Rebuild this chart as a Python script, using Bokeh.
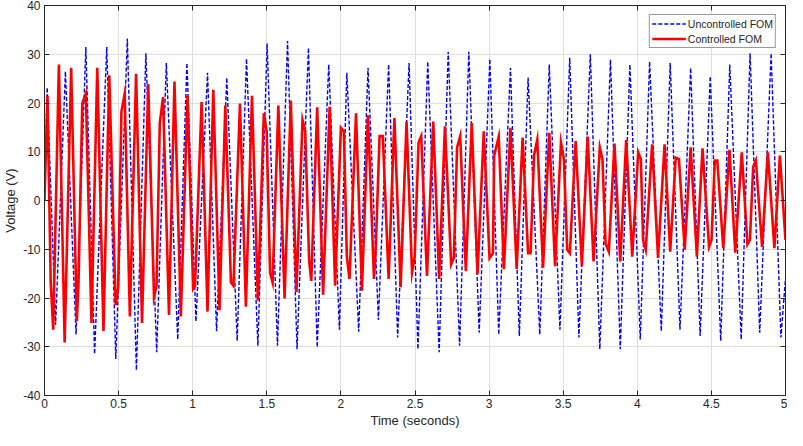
from bokeh.plotting import figure
from bokeh.models import LinearAxis, FixedTicker, Range1d, NumeralTickFormatter
from bokeh.embed import file_html
from bokeh.resources import INLINE

# ---- data ----
uncontrolled_t = [0.0, 0.018, 0.075, 0.141, 0.213, 0.279, 0.338, 0.42, 0.481, 0.559, 0.62,
                  0.684, 0.757, 0.822, 0.899, 0.961, 1.022, 1.10, 1.161, 1.23, 1.30, 1.363,
                  1.44, 1.502, 1.572, 1.64, 1.704, 1.781, 1.84, 1.918, 1.99, 2.04, 2.12,
                  2.183, 2.253, 2.322, 2.383, 2.46, 2.52, 2.586, 2.663, 2.724, 2.801, 2.863,
                  2.933, 3.005, 3.065, 3.144, 3.204, 3.263, 3.342, 3.406, 3.478, 3.544, 3.606,
                  3.683, 3.747, 3.819, 3.885, 3.95, 4.02, 4.083, 4.162, 4.222, 4.288, 4.36,
                  4.424, 4.492, 4.563, 4.624, 4.701, 4.761, 4.826, 4.903, 4.969, 5.0]
uncontrolled_v = [0.0, 23.2, -25.5, 26.5, -27.5, 31.5, -31.5, 31.5, -32.5, 33.2, -34.8,
                  30.2, -31.1, 28.2, -28.5, 28.2, -24.8, 26.2, -26.8, 25.2, -28.8, 29.1,
                  -29.8, 32.2, -29.8, 32.7, -30.5, 31.3, -30.1, 27.9, -26.5, 26.2, -26.9,
                  27.2, -24.5, 27.9, -28.1, 28.2, -30.5, 28.5, -31.1, 30.5, -29.8, 30.5,
                  -27.1, 29.0, -27.5, 27.2, -27.8, 25.2, -27.5, 27.9, -26.5, 29.3, -28.1,
                  30.0, -30.5, 28.9, -30.5, 27.9, -28.5, 28.5, -26.8, 28.2, -26.5, 27.2,
                  -27.8, 25.5, -28.8, 27.9, -28.5, 30.2, -27.1, 30.2, -28.1, -16.0]

controlled_t = [0.0, 0.02, 0.042, 0.059, 0.097, 0.136, 0.18, 0.218, 0.229, 0.255, 0.279,
                0.317, 0.356, 0.398, 0.437, 0.48, 0.497, 0.519, 0.541, 0.576, 0.618, 0.658,
                0.70, 0.739, 0.756, 0.778, 0.80, 0.84, 0.877, 0.92, 0.965, 1.003, 1.016,
                1.06, 1.10, 1.139, 1.181, 1.22, 1.258, 1.275, 1.319, 1.359, 1.40, 1.44,
                1.48, 1.499, 1.522, 1.539, 1.578, 1.62, 1.662, 1.70, 1.741, 1.759, 1.786,
                1.80, 1.84, 1.88, 1.924, 1.961, 2.0, 2.02, 2.04, 2.058, 2.102, 2.142,
                2.183, 2.223, 2.234, 2.261, 2.283, 2.322, 2.361, 2.403, 2.443, 2.48, 2.498,
                2.524, 2.542, 2.581, 2.623, 2.663, 2.702, 2.744, 2.762, 2.784, 2.805, 2.843,
                2.883, 2.922, 2.964, 3.003, 3.026, 3.034, 3.065, 3.10, 3.144, 3.186, 3.226,
                3.263, 3.28, 3.303, 3.325, 3.364, 3.406, 3.445, 3.485, 3.505, 3.527, 3.545,
                3.584, 3.626, 3.665, 3.705, 3.747, 3.765, 3.786, 3.808, 3.846, 3.885, 3.925,
                3.966, 4.006, 4.024, 4.039, 4.057, 4.10, 4.14, 4.184, 4.222, 4.259, 4.281,
                4.32, 4.36, 4.402, 4.44, 4.484, 4.501, 4.523, 4.54, 4.58, 4.622, 4.661,
                4.705, 4.743, 4.76, 4.782, 4.80, 4.842, 4.881, 4.925, 4.962, 5.0]
controlled_v = [0.0, 21.5, -16.8, -26.5, 27.9, -29.1, 27.2, -24.8, -17.5, 19.9, 21.9,
                -25.1, 27.2, -26.8, 25.7, -21.5, -18.1, 18.2, 21.9, -23.8, 26.0, -25.1,
                23.9, -19.8, -17.5, 15.9, 21.2, -23.5, 24.4, -23.8, 21.5, -18.1, -17.5,
                20.2, -22.8, 22.7, -22.5, 19.5, -16.8, -17.5, 19.9, -21.8, 21.5, -20.5,
                17.9, 14.2, -14.8, -16.8, 19.5, -20.1, 20.5, -18.8, 16.5, 14.2, -12.5,
                -16.5, 19.1, -19.3, 19.2, -17.5, 14.9, 14.2, -11.5, -16.1, 17.9, -18.5,
                17.5, -16.1, -10.8, 13.2, 13.2, -16.1, 16.9, -17.8, 16.2, -14.8, -11.5,
                11.9, 13.2, -15.5, 16.2, -16.1, 15.2, -13.1, -11.8, 10.9, 13.2, -14.5,
                15.9, -15.1, 14.2, -11.8, -10.8, 9.2, 13.1, -14.1, 14.9, -14.1, 12.9,
                -10.8, -10.8, 9.2, 12.5, -13.8, 13.9, -13.5, 11.9, 8.5, -10.1, -10.8,
                12.2, -13.5, 13.1, -12.5, 10.9, 8.5, -8.8, -10.5, 11.7, -12.5, 12.4,
                -11.5, 9.9, 8.5, -8.1, -10.1, 11.5, -11.8, 11.5, -10.5, 8.8, 8.5,
                -10.1, 10.9, -11.5, 10.7, -9.5, -8.1, 8.2, 8.2, -9.8, 10.4, -10.7,
                9.9, -9.0, -8.1, 6.9, 8.2, -9.5, 9.9, -9.8, 9.2, -8.1]

series_labels = ["Uncontrolled FOM", "Controlled FOM"]
x_ticks = [0, 0.5, 1, 1.5, 2, 2.5, 3, 3.5, 4, 4.5, 5]
x_tick_labels = ["0", "0.5", "1", "1.5", "2", "2.5", "3", "3.5", "4", "4.5", "5"]
y_ticks = [-40, -30, -20, -10, 0, 10, 20, 30, 40]
y_tick_labels = ["-40", "-30", "-20", "-10", "0", "10", "20", "30", "40"]
x_label = "Time (seconds)"
y_label = "Voltage (V)"

FONT = "Liberation Sans"
AX = "#262626"

p = figure(width=787, height=430, output_backend="svg", toolbar_location=None,
           x_range=Range1d(0, 5), y_range=Range1d(-40, 40),
           min_border_left=30, min_border_right=2, min_border_top=5, min_border_bottom=30)
p.background_fill_color = "white"
p.border_fill_color = "white"
p.outline_line_color = AX
p.outline_line_width = 1

p.line(uncontrolled_t, uncontrolled_v, line_color="#0000ff", line_width=1.4,
       line_dash="4 2", legend_label=series_labels[0])
p.line(controlled_t, controlled_v, line_color="#ff0000", line_width=2.6,
       line_join="miter", legend_label=series_labels[1])

p.xaxis.ticker = FixedTicker(ticks=x_ticks)
p.yaxis.ticker = FixedTicker(ticks=y_ticks)
p.xaxis.formatter = NumeralTickFormatter(format="0.[0]")
p.xaxis.major_label_overrides = dict(zip(x_ticks, x_tick_labels))
p.yaxis.major_label_overrides = dict(zip(y_ticks, y_tick_labels))
p.xaxis.axis_label = x_label
p.yaxis.axis_label = y_label

for ax in (p.xaxis[0], p.yaxis[0]):
    ax.major_tick_in = 5
    ax.major_tick_out = 0
    ax.minor_tick_in = 0
    ax.minor_tick_out = 0
    ax.axis_line_color = AX
    ax.major_tick_line_color = AX
    ax.major_label_text_font = FONT
    ax.major_label_text_font_size = "12px"
    ax.major_label_text_color = AX
    ax.axis_label_text_font = FONT
    ax.axis_label_text_font_size = "13px"
    ax.axis_label_text_font_style = "normal"
    ax.axis_label_text_color = AX
    ax.major_label_standoff = 3
    ax.axis_label_standoff = 2

p.yaxis[0].major_label_standoff = 4

for side, ticks in (("right", y_ticks), ("above", x_ticks)):
    ax = LinearAxis(ticker=FixedTicker(ticks=ticks),
                    major_label_overrides={t: "" for t in ticks},
                    major_tick_in=5, major_tick_out=0, minor_tick_in=0, minor_tick_out=0,
                    axis_line_color=AX, major_tick_line_color=AX, major_label_standoff=0)
    p.add_layout(ax, side)

p.xgrid.grid_line_color = "#dfdfdf"
p.ygrid.grid_line_color = "#dfdfdf"

lg = p.legend[0]
lg.location = "top_right"
lg.label_text_font = FONT
lg.label_text_font_size = "10.5px"
lg.label_text_color = AX
lg.border_line_color = "#333333"
lg.border_line_width = 1
lg.background_fill_color = "white"
lg.background_fill_alpha = 1
lg.glyph_width = 34
lg.glyph_height = 13
lg.label_height = 13
lg.label_standoff = 2
lg.padding = 2
lg.spacing = 2
lg.margin = 9

open("out.html", "w").write(file_html(p, INLINE))
